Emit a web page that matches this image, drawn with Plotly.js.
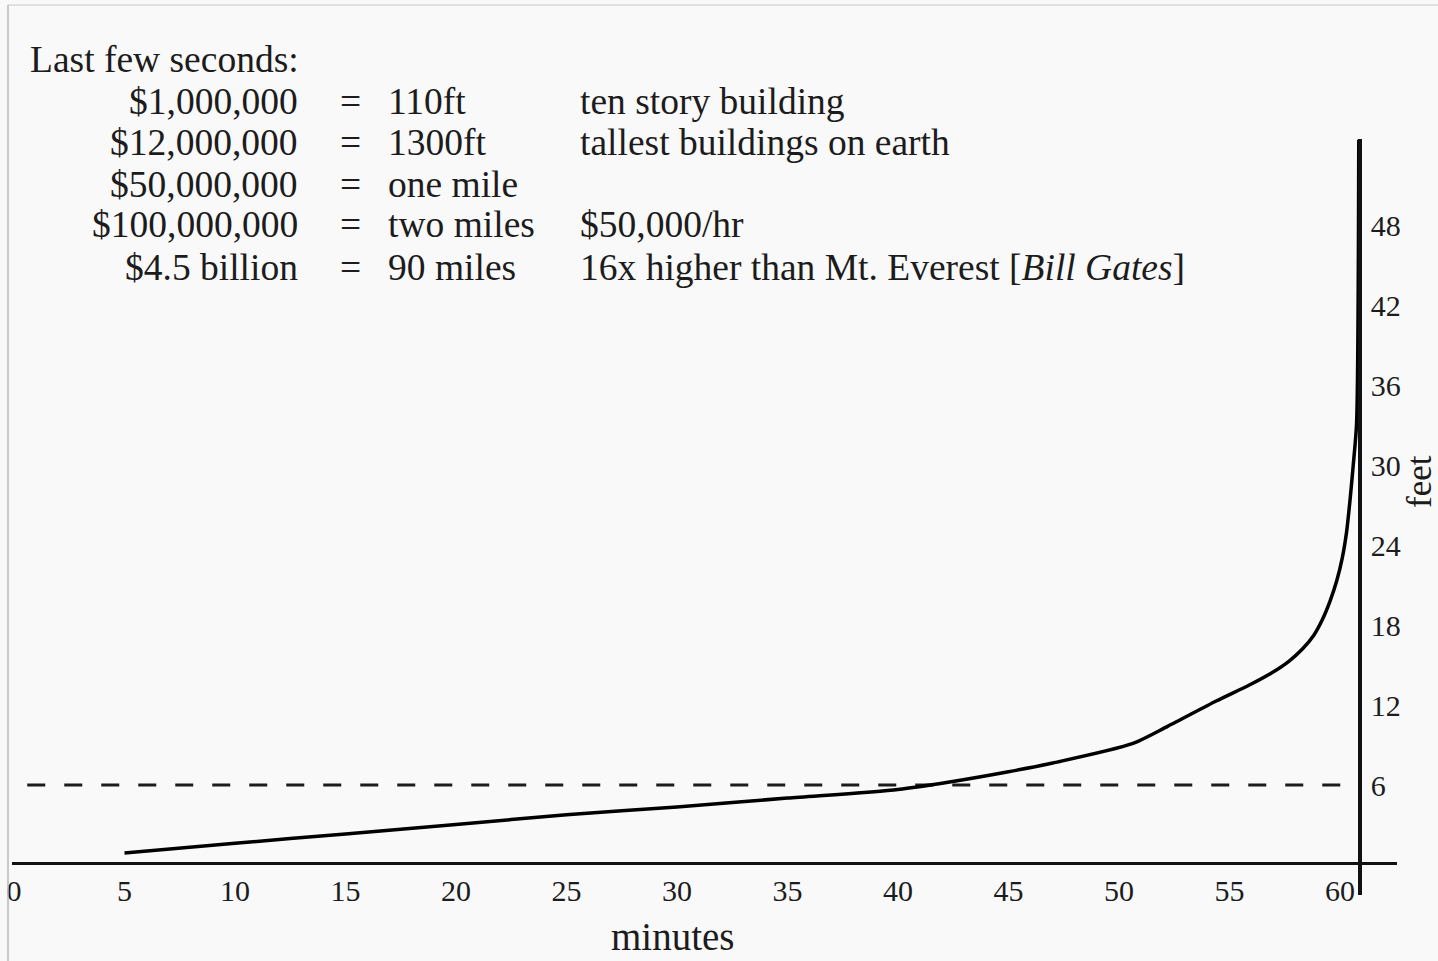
<!DOCTYPE html>
<html>
<head>
<meta charset="utf-8">
<script src="https://cdn.plot.ly/plotly-3.0.1.min.js"></script>
<style>html,body{margin:0;padding:0;background:#f9f9f9;}#chart{width:1438px;height:961px;}</style>
</head>
<body>
<div id="chart"></div>
<script>
// ---- data ----
const minutes = [5, 10, 15, 20, 25, 30, 35, 40, 42.4, 45, 47, 50.6, 52.2, 54.4, 55.9, 56.9, 57.7, 58.3, 58.8, 59.2, 59.55, 59.85, 60.1, 60.3, 60.45, 60.6, 60.75, 60.85];
const feet    = [0.9, 1.63, 2.33, 3.03, 3.77, 4.36, 5.02, 5.67, 6.25, 7.0, 7.65, 9.1, 10.4, 12.3, 13.5, 14.4, 15.3, 16.2, 17.2, 18.4, 19.8, 21.3, 23.0, 25.0, 27.3, 30.0, 33.1, 54.4];
const dashX = [0.6, 60.9];
const dashY = [6, 6];
const xTickVals = [0, 5, 10, 15, 20, 25, 30, 35, 40, 45, 50, 55, 60];
const yTickVals = [6, 12, 18, 24, 30, 36, 42, 48];
const yAxisAtMinute = 60.9;

const heading = "Last few seconds:";
const amounts = ["$1,000,000", "$12,000,000", "$50,000,000", "$100,000,000", "$4.5 billion"];
const equivalents = ["110ft", "1300ft", "one mile", "two miles", "90 miles"];
const notes = ["ten story building", "tallest buildings on earth", "", "$50,000/hr", "16x higher than Mt. Everest [<i>Bill Gates</i>]"];

// ---- layout geometry ----
const W = 1438, H = 961;
const M = {l: 12, r: 41, t: 139, b: 66};
const plotW = W - M.l - M.r, plotH = H - M.t - M.b;
const xRange = [-0.09, 62.58];
const yRange = [-2.25, 54.46];
const px = v => (v - M.l) / plotW;          // pixel -> paper x
const py = v => (H - M.b - v) / plotH;      // pixel -> paper y

const FONT = "Liberation Serif, Times New Roman, serif";
const INK = "#1c1c1c";
const TXT = 37.5;

const annotations = [];
annotations.push({text: heading, xref: "paper", yref: "paper", x: px(29), y: py(59), xanchor: "left", yanchor: "middle", showarrow: false, borderpad: 0, font: {family: FONT, size: TXT, color: INK}});
const rowY = [101, 142, 184, 225, 267];
amounts.forEach((a, i) => {
  annotations.push({text: a, xref: "paper", yref: "paper", x: px(299), y: py(rowY[i]), xanchor: "right", yanchor: "middle", showarrow: false, borderpad: 0, font: {family: FONT, size: TXT, color: INK}});
  annotations.push({text: "=", xref: "paper", yref: "paper", x: px(350), y: py(rowY[i]), xanchor: "center", yanchor: "middle", showarrow: false, borderpad: 0, font: {family: FONT, size: TXT, color: INK}});
  annotations.push({text: equivalents[i], xref: "paper", yref: "paper", x: px(387), y: py(rowY[i]), xanchor: "left", yanchor: "middle", showarrow: false, borderpad: 0, font: {family: FONT, size: TXT, color: INK}});
  if (notes[i]) {
    annotations.push({text: notes[i], xref: "paper", yref: "paper", x: px(579), y: py(rowY[i]), xanchor: "left", yanchor: "middle", showarrow: false, borderpad: 0, font: {family: FONT, size: TXT, color: INK}});
  }
});
annotations.push({text: "minutes", xref: "x", yref: "paper", x: 29.8, y: py(936), xanchor: "center", yanchor: "middle", showarrow: false, borderpad: 0, font: {family: FONT, size: 39, color: INK}});
annotations.push({text: "feet", xref: "paper", yref: "paper", x: px(1419), y: py(482), xanchor: "center", yanchor: "middle", textangle: -90, showarrow: false, borderpad: 0, font: {family: FONT, size: 35, color: INK}});

const traces = [
  {x: dashX, y: dashY, mode: "lines", line: {color: INK, width: 3, dash: "18px,19px"}, hoverinfo: "skip"},
  {x: minutes, y: feet, mode: "lines", line: {color: "#000", width: 3.5, shape: "spline", smoothing: 0.7}}
];

const layout = {
  width: W, height: H,
  margin: M,
  paper_bgcolor: "#f9f9f9",
  plot_bgcolor: "rgba(0,0,0,0)",
  showlegend: false,
  font: {family: FONT, color: INK},
  xaxis: {
    range: xRange, anchor: "free", position: py(863),
    showline: true, linewidth: 3, linecolor: "#111",
    showgrid: false, zeroline: false, ticks: "",
    tickvals: xTickVals, ticktext: xTickVals.map(String),
    tickfont: {family: FONT, size: 30, color: INK},
    ticklabelstandoff: 0
  },
  yaxis: {
    range: yRange, side: "right", anchor: "free",
    position: (yAxisAtMinute - xRange[0]) / (xRange[1] - xRange[0]),
    showline: true, linewidth: 4, linecolor: "#111",
    showgrid: false, zeroline: false, ticks: "",
    tickvals: yTickVals, ticktext: yTickVals.map(String),
    tickfont: {family: FONT, size: 30, color: INK},
    ticklabelstandoff: 3
  },
  annotations: annotations,
  shapes: [
    {type: "line", xref: "paper", yref: "paper", x0: px(8), x1: px(8), y0: py(5), y1: py(961), line: {color: "#b8b8b8", width: 1.5}},
    {type: "line", xref: "paper", yref: "paper", x0: px(8), x1: px(1438), y0: py(5), y1: py(5), line: {color: "#c8c8c8", width: 1}}
  ]
};

Plotly.newPlot("chart", traces, layout, {displayModeBar: false, staticPlot: true});
</script>
</body>
</html>
